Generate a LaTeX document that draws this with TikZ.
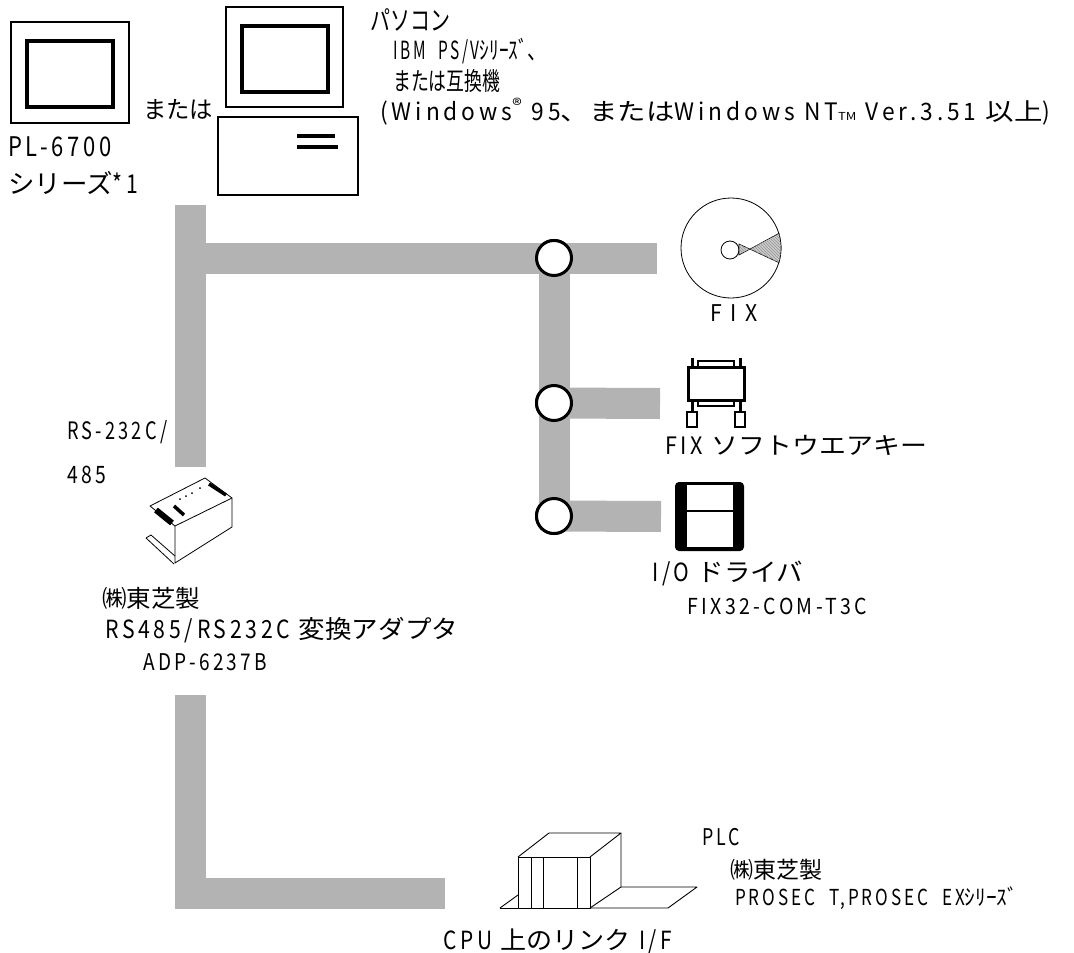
\documentclass[tikz,border=0pt]{standalone}
\usepackage{fontspec}
\setmainfont{Noto Sans CJK JP}
% narrow, letter-spaced face for the half-width Latin runs
\newfontfamily\latf[FakeStretch=0.8,LetterSpace=14]{Noto Sans CJK JP}
\newcommand\lat[1]{{\latf #1}}
\usetikzlibrary{calc,patterns}
\definecolor{busgray}{RGB}{179,179,179}
\newcommand\fz[1]{\fontsize{#1}{#1}\selectfont}
% set a label at its natural height, stretched to a given width (pt)
\newcommand\tw[2]{\resizebox{#1pt}{\height}{#2}}
\tikzset{
  bus/.style={draw=busgray, line width=31pt},
  junction/.style={circle, draw, line width=3pt, fill=white, minimum size=35pt, inner sep=0pt},
  lbl/.style={anchor=west, inner sep=0pt},
  thinline/.style={line width=0.8pt},
  plcline/.style={line width=0.9pt, line join=round},
}
\begin{document}
\begin{tikzpicture}[x=1pt,y=-1pt]
\useasboundingbox[fill=white] (0,0) rectangle (1074,953);

% ---------- cable runs ----------
\coordinate (pcDrop) at (190.5,205);
\coordinate (adIn)   at (190.5,467);
\coordinate (busW)   at (190.5,258);
\coordinate (cdEnd)  at (657,258);
\coordinate (keyEnd) at (660,403.5);
\coordinate (drvEnd) at (661,516.5);
\coordinate (adOut)  at (190.5,695);
\coordinate (bend)   at (190.5,893.5);
\coordinate (plcIn)  at (445,893.5);

\node[junction] (j1) at (554,258) {};
\node[junction] (j2) at (554,403) {};
\node[junction] (j3) at (554,516) {};

\draw[bus] (pcDrop) -- (adIn);
\draw[bus] (busW) -- (j1.center) -- (cdEnd);
\draw[bus] (j1.center) -- (j3.center);
\draw[bus] (j2.center) -- (keyEnd);
\draw[bus] (j3.center) -- (drvEnd);
\draw[bus] (adOut) -- (bend) -- (plcIn);

% junction rings sit on top of the cable runs
\node[junction] at (j1) {};
\node[junction] at (j2) {};
\node[junction] at (j3) {};

% ---------- PL-6700 panel ----------
\draw[line width=2.5pt] (11,22) rectangle (129,123);
\draw[line width=3.5pt] (27,41) rectangle (113,107);

% ---------- personal computer ----------
\draw[line width=2.5pt] (226,7) rectangle (343,107);
\draw[line width=3.5pt] (242,26) rectangle (328,92);
\draw[line width=2.5pt] (218,117) rectangle (358,195);
\draw[line width=3.5pt] (297,136) -- (335,136);
\draw[line width=3.5pt] (297,147) -- (338,147);

% ---------- FIX disc ----------
\coordinate (cd) at (731,248);
\draw[thinline] (cd) circle[radius=50];
\draw[thinline] (730,250) circle[radius=9];
\draw[line width=0.6pt, fill=gray!40]
  (739,244) -- ($(cd)+(17:50)$) arc[start angle=17, end angle=-17, radius=50] -- (739,255) -- cycle;
\fill[pattern=north west lines, pattern color=gray!85]
  (739,244) -- ($(cd)+(17:50)$) arc[start angle=17, end angle=-17, radius=50] -- (739,255) -- cycle;

% ---------- software key ----------
\draw[line width=2pt] (698,361) rectangle (734,367);
\draw[line width=2pt] (698,400) rectangle (734,406);
\draw[line width=3pt] (692,358) -- (692,367) (740,358) -- (740,367);
\draw[line width=3pt] (692,400) -- (692,412) (740,400) -- (740,412);
\draw[line width=3pt, fill=white] (688,367) rectangle (744,400);
\draw[line width=2pt] (687,412) rectangle (697,427);
\draw[line width=2pt] (735,412) rectangle (745,427);

% ---------- floppy disk ----------
\fill[rounded corners=4pt] (675,482) rectangle (744,551);
\fill[white] (687,485) rectangle (733,510);
\fill[white] (687,512) rectangle (733,547);

% ---------- converter adapter ----------
\draw[thinline, line join=round] (150,506) -- (205,478) -- (232,498) -- (175,526) -- cycle;
\draw[thinline, line join=round] (175,526) -- (175,563) -- (232,527) -- (232,498);
\draw[thinline] (146,538) -- (174,564) (151,535) -- (175,556) (146,538) -- (151,535);
\draw[line width=6pt] (156,510) -- (172,523);
\draw[line width=3.5pt] (174,506) -- (184,515);
\draw[line width=3.5pt] (209,484) -- (226,495);
\foreach \p in {(180,499),(186,496),(192,493),(200,488)} \fill \p circle[radius=1];

% ---------- PLC ----------
\draw[plcline] (500,908) -- (518,895);
\draw[plcline] (590,908) -- (668,908) -- (697,887) -- (621,887);
\draw[plcline] (500,908) -- (518,908);
\draw[plcline, fill=white] (518,857) rectangle (590,908);
\draw[plcline] (518,857) -- (549,833) -- (621,833) -- (590,857);
\draw[plcline] (621,833) -- (621,887) -- (590,908);
\draw[plcline] (531,857) -- (531,908) (543,857) -- (543,908) (577,857) -- (577,908);

% ---------- labels ----------
\node[lbl,font=\fz{27}] (plModel) at (8,147) {\tw{104}{\lat{PL-6700}}};
\node[lbl,font=\fz{26}] (plSeries) at (8,183) {\tw{130}{シリーズ\lat{*1}}};
\node[lbl,font=\fz{24}] (orText) at (143,110) {\tw{70}{または}};
\node[lbl,font=\fz{27}] (pcTitle) at (370,20) {\tw{80}{パソコン}};
\node[lbl,font=\fz{25}] (pcModel) at (393,51) {\tw{154}{\lat{IBM\ \ PS/V}ｼﾘｰｽﾞ、}};
\node[lbl,font=\fz{25}] (pcCompat) at (393,81) {\tw{107}{または互換機}};
\node[lbl,font=\fz{24}] (pcOS) at (380,112) {\tw{670}{\lat{(Windows}\textsuperscript{®}\lat{ 95}、または\lat{Windows NT}{\fz{11}TM}\lat{ Ver.3.51 }以上\lat{)}}};
\node[lbl,font=\fz{24}] (rsType) at (67,432) {\tw{100}{\lat{RS-232C/}}};
\node[lbl,font=\fz{24}] (rsNum) at (67,475) {\tw{39}{\lat{485}}};
\node[lbl,font=\fz{24}] (adMaker) at (102,598) {\tw{98}{㈱東芝製}};
\node[lbl,font=\fz{25}] (adName) at (105,630) {\tw{353}{\lat{RS485/RS232C }変換アダプタ}};
\node[lbl,font=\fz{23}] (adModel) at (143,662) {\tw{124}{\lat{ADP-6237B}}};
\node[lbl,font=\fz{23}] (cdName) at (710,313) {\tw{47}{\lat{F I X}}};
\node[lbl,font=\fz{24}] (keyName) at (665,445) {\tw{262}{\lat{FIX }ソフトウエアキー}};
\node[lbl,font=\fz{25}] (drvName) at (652,573) {\tw{151}{\lat{I/O }ドライバ}};
\node[lbl,font=\fz{22}] (drvModel) at (687,606) {\tw{180}{\lat{FIX32-COM-T3C}}};
\node[lbl,font=\fz{23}] (plcName) at (702,837) {\tw{38}{\lat{PLC}}};
\node[lbl,font=\fz{23}] (plcMaker) at (730,870) {\tw{92}{㈱東芝製}};
\node[lbl,font=\fz{22}] (plcModel) at (735,898) {\tw{283}{\lat{PROSEC\ \ T,PROSEC\ \ EX}ｼﾘｰｽﾞ}};
\node[lbl,font=\fz{25}] (plcLink) at (443,941) {\tw{229}{\lat{CPU }上のリンク\lat{ I/F}}};
\end{tikzpicture}
\end{document}
